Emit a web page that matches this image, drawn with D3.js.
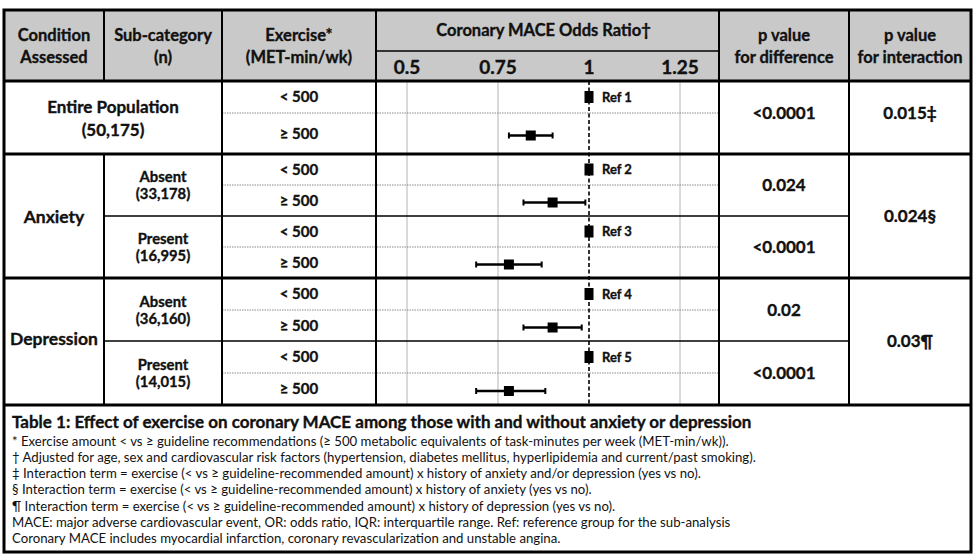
<!DOCTYPE html>
<html><head><meta charset="utf-8">
<script src="https://cdn.jsdelivr.net/npm/d3@7"></script>
<style>body{margin:0;background:#fff}svg{display:block}text{font-family:Lato,"Open Sans",sans-serif}.b{stroke:#111;stroke-width:0.35px}</style>
</head><body>
<svg id="c" width="978" height="558"></svg>
<script>
// ---- data ----
const conditions = ["Entire Population", "Anxiety", "Depression"];
const entireN = "(50,175)";
const subcategories = ["Absent", "Present", "Absent", "Present"];
const subcategoryN = ["(33,178)", "(16,995)", "(36,160)", "(14,015)"];
const exerciseLabels = ["< 500", "≥ 500", "< 500", "≥ 500", "< 500", "≥ 500", "< 500", "≥ 500", "< 500", "≥ 500"];
const oddsRatio = [1, 0.84, 1, 0.90, 1, 0.78, 1, 0.90, 1, 0.78];
const ciLow    = [null, 0.78, null, 0.82, null, 0.69, null, 0.82, null, 0.69];
const ciHigh   = [null, 0.90, null, 0.99, null, 0.87, null, 0.98, null, 0.88];
const refLabels = ["Ref 1", "", "Ref 2", "", "Ref 3", "", "Ref 4", "", "Ref 5", ""];
const pDifference = ["<0.0001", "0.024", "<0.0001", "0.02", "<0.0001"];
const pInteraction = ["0.015‡", "0.024§", "0.03¶"];
const ticks = [0.5, 0.75, 1, 1.25];
const tickLabels = ["0.5", "0.75", "1", "1.25"];
const headers = [["Condition", "Assessed"], ["Sub-category", "(n)"], ["Exercise*", "(MET-min/wk)"], ["p value", "for difference"], ["p value", "for interaction"]];
const plotTitle = "Coronary MACE Odds Ratio†";
const tableTitle = "Table 1: Effect of exercise on coronary MACE among those with and without anxiety or depression";
const footnotes = [
 "* Exercise amount < vs ≥ guideline recommendations (≥ 500 metabolic equivalents of task-minutes per week (MET-min/wk)).",
 "† Adjusted for age, sex and cardiovascular risk factors (hypertension, diabetes mellitus, hyperlipidemia and current/past smoking).",
 "‡ Interaction term = exercise (< vs ≥ guideline-recommended amount) x history of anxiety and/or depression (yes vs no).",
 "§ Interaction term = exercise (< vs ≥ guideline-recommended amount) x history of anxiety (yes vs no).",
 "¶ Interaction term = exercise (< vs ≥ guideline-recommended amount) x history of depression (yes vs no).",
 "MACE: major adverse cardiovascular event, OR: odds ratio, IQR: interquartile range. Ref: reference group for the sub-analysis",
 "Coronary MACE includes myocardial infarction, coronary revascularization and unstable angina."
];

// ---- layout ----
const svg = d3.select("#c");
const L = 4, R = 971, T = 10, HM = 51, HB = 81, TB = 405, FB = 552;
const colX = [L, 104, 222, 376, 719, 849, R];
const rowEdges = [HB, 113, 154, 185, 216, 247, 278, 310, 341, 373, TB];
const y = d3.scaleLinear().domain(d3.range(rowEdges.length)).range(rowEdges);
const x = d3.scaleLinear().domain([0.5, 1.25]).range([407, 680]);
const bold = "700";

// header background
svg.append("rect").attr("x", L).attr("y", T).attr("width", R - L).attr("height", HB - T).attr("fill", "#c9c9c9");

// grid lines in plot
svg.append("g").selectAll("line").data(ticks.filter(t => t !== 1)).join("line")
  .attr("x1", d => x(d)).attr("x2", d => x(d)).attr("y1", HB).attr("y2", TB)
  .attr("stroke", "#b4b4b4").attr("stroke-width", 1);

// dotted lines inside each pair
const pairIdx = [0, 2, 4, 6, 8];
svg.append("g").selectAll("line").data(pairIdx).join("line")
  .attr("x1", colX[2]).attr("x2", colX[4]).attr("y1", d => y(d + 1)).attr("y2", d => y(d + 1))
  .attr("stroke", "#8a8a8a").attr("stroke-width", 1).attr("stroke-dasharray", "1.5,1");

// dashed reference line
svg.append("line").attr("x1", x(1)).attr("x2", x(1)).attr("y1", HB).attr("y2", TB)
  .attr("stroke", "#000").attr("stroke-width", 1.6).attr("stroke-dasharray", "4,2.5");

// subsection lines
svg.append("g").selectAll("line").data([4, 8]).join("line")
  .attr("x1", colX[1]).attr("x2", colX[5]).attr("y1", d => y(d)).attr("y2", d => y(d))
  .attr("stroke", "#000").attr("stroke-width", 1.6);

// column dividers
const vlines = [[colX[1], T, HB], [colX[1], y(2), TB], [colX[2], T, TB], [colX[3], T, TB], [colX[4], T, TB], [colX[5], T, TB]];
svg.append("g").selectAll("line").data(vlines).join("line")
  .attr("x1", d => d[0]).attr("x2", d => d[0]).attr("y1", d => d[1]).attr("y2", d => d[2])
  .attr("stroke", "#000").attr("stroke-width", 2);
svg.append("line").attr("x1", colX[3]).attr("x2", colX[4]).attr("y1", HM).attr("y2", HM).attr("stroke", "#000").attr("stroke-width", 1.6);

// thick section lines
svg.append("g").selectAll("line").data([HB, y(2), y(6), TB]).join("line")
  .attr("x1", L).attr("x2", R).attr("y1", d => d).attr("y2", d => d)
  .attr("stroke", "#000").attr("stroke-width", 3.2);

// outer border
svg.append("rect").attr("x", L).attr("y", T).attr("width", R - L).attr("height", FB - T)
  .attr("fill", "none").attr("stroke", "#000").attr("stroke-width", 3);

// header texts
const hdrCols = [[0, 1], [1, 2], [2, 3], [4, 5], [5, 6]];
hdrCols.forEach((c, i) => {
  const cx = (colX[c[0]] + colX[c[1]]) / 2;
  const t = svg.append("text").attr("class", "b").attr("x", cx).attr("text-anchor", "middle").attr("font-weight", bold).attr("font-size", 16.5).attr("fill", "#111");
  t.append("tspan").attr("x", cx).attr("y", 41).text(headers[i][0]);
  t.append("tspan").attr("x", cx).attr("y", 63).text(headers[i][1]);
});
svg.append("text").attr("class", "b").attr("x", (colX[3] + colX[4]) / 2 - 4).attr("y", 36).attr("text-anchor", "middle")
  .attr("font-weight", bold).attr("font-size", 16.5).attr("fill", "#111").text(plotTitle);
svg.append("g").selectAll("text").data(ticks).join("text").attr("class", "b")
  .attr("x", d => x(d)).attr("y", 74).attr("text-anchor", "middle")
  .attr("font-weight", bold).attr("font-size", 19).attr("fill", "#111").text((d, i) => tickLabels[i]);

// condition labels
const condY = [(y(0) + y(2)) / 2, (y(2) + y(6)) / 2, (y(6) + y(10)) / 2];
{
  const cx = (colX[0] + colX[2]) / 2;
  const t = svg.append("text").attr("class", "b").attr("text-anchor", "middle").attr("font-weight", bold).attr("font-size", 17).attr("fill", "#111");
  t.append("tspan").attr("x", cx).attr("y", condY[0] - 5).text(conditions[0]);
  t.append("tspan").attr("x", cx).attr("y", condY[0] + 18).text(entireN);
}
[1, 2].forEach(i => {
  svg.append("text").attr("class", "b").attr("x", (colX[0] + colX[1]) / 2).attr("y", condY[i] + 7 - (i === 2 ? 4 : 0)).attr("text-anchor", "middle")
    .attr("font-weight", bold).attr("font-size", 17.5).attr("fill", "#111").text(conditions[i]);
});
subcategories.forEach((s, i) => {
  const cy = (y(2 + 2 * i) + y(4 + 2 * i)) / 2;
  const cx = (colX[1] + colX[2]) / 2;
  const t = svg.append("text").attr("class", "b").attr("text-anchor", "middle").attr("font-weight", bold).attr("font-size", 14.8).attr("fill", "#111");
  t.append("tspan").attr("x", cx).attr("y", cy - 3).text(s);
  t.append("tspan").attr("x", cx).attr("y", cy + 14).text(subcategoryN[i]);
});

// exercise labels
svg.append("g").selectAll("text").data(exerciseLabels).join("text").attr("class", "b")
  .attr("x", (colX[2] + colX[3]) / 2).attr("y", (d, i) => (y(i) + y(i + 1)) / 2 + 5)
  .attr("text-anchor", "middle").attr("font-weight", bold).attr("font-size", 15).attr("fill", "#111").text(d => d);

// p values
svg.append("g").selectAll("text").data(pDifference).join("text").attr("class", "b")
  .attr("x", (colX[4] + colX[5]) / 2).attr("y", (d, i) => y(2 * i + 1) + 6)
  .attr("text-anchor", "middle").attr("font-weight", bold).attr("font-size", 17).attr("fill", "#111").text(d => d);
const interY = [y(1), y(4), y(8)];
svg.append("g").selectAll("text").data(pInteraction).join("text").attr("class", "b")
  .attr("x", (colX[5] + colX[6]) / 2).attr("y", (d, i) => interY[i] + 6)
  .attr("text-anchor", "middle").attr("font-weight", bold).attr("font-size", 17).attr("fill", "#111").text(d => d);

// forest plot marks
const rows = oddsRatio.map((v, i) => ({ i, v, lo: ciLow[i], hi: ciHigh[i], ref: refLabels[i] }));
const cy = d => (y(d.i) + y(d.i + 1)) / 2 + (d.ref ? 0 : 2);
const g = svg.append("g");
const ci = rows.filter(d => d.lo !== null);
g.selectAll(".ci").data(ci).join("line").attr("x1", d => x(d.lo)).attr("x2", d => x(d.hi))
  .attr("y1", cy).attr("y2", cy).attr("stroke", "#000").attr("stroke-width", 2.4);
g.selectAll(".capl").data(ci).join("line").attr("x1", d => x(d.lo)).attr("x2", d => x(d.lo))
  .attr("y1", d => cy(d) - 3).attr("y2", d => cy(d) + 3).attr("stroke", "#000").attr("stroke-width", 2);
g.selectAll(".caph").data(ci).join("line").attr("x1", d => x(d.hi)).attr("x2", d => x(d.hi))
  .attr("y1", d => cy(d) - 3).attr("y2", d => cy(d) + 3).attr("stroke", "#000").attr("stroke-width", 2);
g.selectAll(".pt").data(rows).join("rect")
  .attr("x", d => x(d.v) - (d.ref ? 4.5 : 5)).attr("y", d => cy(d) - (d.ref ? 6 : 5))
  .attr("width", d => d.ref ? 9 : 10).attr("height", d => d.ref ? 12 : 10).attr("fill", "#000");
g.selectAll(".rl").data(rows.filter(d => d.ref)).join("text").attr("class", "b")
  .attr("x", d => x(d.v) + 13).attr("y", d => cy(d) + 4.5)
  .attr("font-weight", bold).attr("font-size", 13).attr("fill", "#111").text(d => d.ref);

// footnote block
svg.append("text").attr("class", "b").attr("x", 12).attr("y", 428).attr("font-weight", bold).attr("font-size", 17).attr("fill", "#111").text(tableTitle);
svg.append("g").selectAll("text").data(footnotes).join("text")
  .attr("x", 12).attr("y", (d, i) => 445.5 + i * 16.3).attr("font-size", 13.2).attr("fill", "#111").text(d => d);
</script>
</body></html>
